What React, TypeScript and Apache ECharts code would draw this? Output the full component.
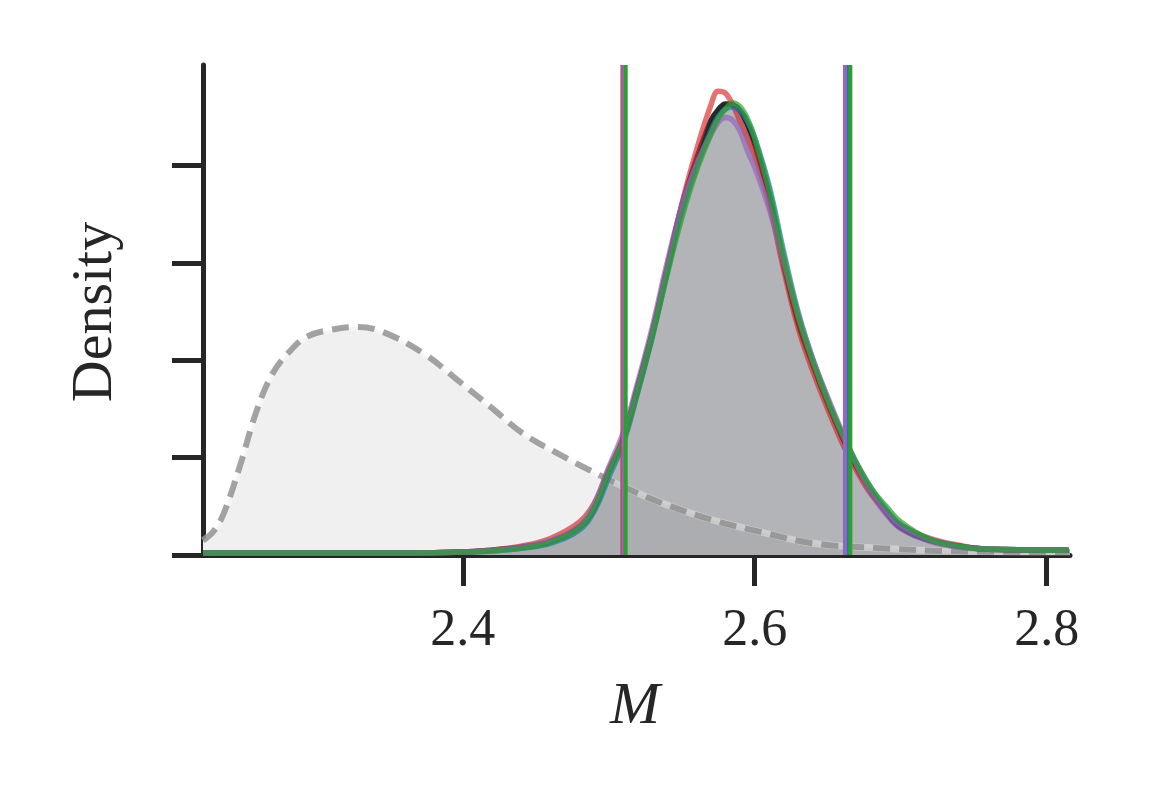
import React, { useEffect, useRef } from "react";
import * as echarts from "echarts";

// Shared M grid for the posterior KDE curves
const mGrid = [2.222, 2.36, 2.40, 2.42, 2.44, 2.46, 2.48, 2.49, 2.50, 2.51, 2.52, 2.53, 2.54, 2.55, 2.56, 2.57, 2.575, 2.58, 2.585, 2.59, 2.595, 2.60, 2.61, 2.62, 2.63, 2.64, 2.65, 2.66, 2.67, 2.68, 2.69, 2.70, 2.72, 2.74, 2.76, 2.815];

// Posterior densities (pooled + four chains)
const pooled = [0.02, 0.02, 0.03, 0.05, 0.08, 0.14, 0.29, 0.48, 0.86, 1.21, 1.74, 2.30, 2.95, 3.58, 4.06, 4.46, 4.57, 4.63, 4.62, 4.56, 4.42, 4.22, 3.68, 2.98, 2.38, 1.95, 1.56, 1.21, 0.90, 0.64, 0.44, 0.28, 0.15, 0.09, 0.06, 0.05];
const chainRed = [0.02, 0.02, 0.03, 0.05, 0.09, 0.17, 0.34, 0.53, 0.88, 1.20, 1.70, 2.27, 2.93, 3.60, 4.15, 4.62, 4.76, 4.74, 4.62, 4.45, 4.28, 4.10, 3.60, 2.92, 2.32, 1.88, 1.50, 1.15, 0.86, 0.62, 0.45, 0.31, 0.17, 0.10, 0.06, 0.05];
const chainBlue = [0.02, 0.02, 0.03, 0.04, 0.07, 0.12, 0.26, 0.45, 0.80, 1.15, 1.68, 2.25, 2.90, 3.52, 3.98, 4.36, 4.50, 4.58, 4.60, 4.56, 4.45, 4.28, 3.78, 3.10, 2.48, 2.00, 1.60, 1.24, 0.93, 0.68, 0.47, 0.31, 0.16, 0.09, 0.06, 0.05];
const chainPurple = [0.02, 0.02, 0.03, 0.05, 0.08, 0.15, 0.30, 0.52, 0.90, 1.26, 1.78, 2.35, 3.00, 3.58, 4.00, 4.32, 4.44, 4.49, 4.46, 4.35, 4.15, 3.98, 3.55, 3.00, 2.45, 2.00, 1.62, 1.26, 0.92, 0.63, 0.42, 0.27, 0.14, 0.08, 0.06, 0.05];
const chainGreen = [0.02, 0.02, 0.03, 0.04, 0.07, 0.13, 0.28, 0.48, 0.84, 1.18, 1.70, 2.26, 2.88, 3.46, 3.94, 4.32, 4.48, 4.58, 4.64, 4.60, 4.48, 4.28, 3.74, 3.05, 2.44, 1.98, 1.58, 1.24, 0.94, 0.68, 0.50, 0.34, 0.16, 0.09, 0.06, 0.05];

// Prior density
const priorM = [2.222, 2.229, 2.236, 2.247, 2.259, 2.270, 2.282, 2.293, 2.309, 2.327, 2.345, 2.373, 2.396, 2.419, 2.441, 2.464, 2.487, 2.510, 2.537, 2.571, 2.606, 2.640, 2.686, 2.734, 2.816];
const priorDensity = [0.15, 0.24, 0.42, 0.90, 1.49, 1.87, 2.10, 2.24, 2.31, 2.34, 2.29, 2.07, 1.80, 1.52, 1.25, 1.05, 0.87, 0.70, 0.53, 0.36, 0.23, 0.12, 0.07, 0.04, 0.03];

// Credible interval bounds per chain (order: red, blue, purple, green)
const chainColors = ["#d62728", "#1f77b4", "#9467bd", "#2ca02c"];
const lowerBounds = [2.5094, 2.5105, 2.5100, 2.5116];
const upperBounds = [2.6625, 2.6635, 2.6618, 2.6655];

const xTicks = [2.4, 2.6, 2.8];
const yTicks = [0, 1, 2, 3, 4];
const xMin = 2.222;
const xMax = 2.816;
const yMax = 5.03;

const zip = (xs: number[], ys: number[]) => xs.map((x, i) => [x, ys[i]]);

export default function App() {
  const ref = useRef<HTMLDivElement>(null);
  useEffect(() => {
    if (!ref.current) return;
    const chart = echarts.init(ref.current, undefined, { renderer: "svg" });
    const axisColor = "#262626";
    const serif = "'Liberation Serif', serif";

    const chainLines = [
      { data: pooled, color: "rgba(20,20,20,0.9)" },
      { data: chainRed, color: "rgba(214,39,40,0.65)" },
      { data: chainBlue, color: "rgba(31,119,180,0.7)" },
      { data: chainPurple, color: "rgba(148,103,189,0.7)" },
      { data: chainGreen, color: "rgba(44,160,44,0.7)" },
    ];

    const series: any[] = [
      {
        type: "line",
        data: zip(priorM, priorDensity),
        smooth: 0.4,
        showSymbol: false,
        lineStyle: { width: 0 },
        areaStyle: { color: "#f0f0f0", opacity: 1 },
        z: 1,
        silent: true,
      },
      {
        type: "line",
        data: zip(mGrid, pooled),
        smooth: 0.4,
        showSymbol: false,
        lineStyle: { width: 0 },
        areaStyle: { color: "rgba(110,112,116,0.52)", opacity: 1 },
        z: 2,
      },
      {
        type: "line",
        data: zip(priorM, priorDensity),
        smooth: 0.4,
        showSymbol: false,
        lineStyle: { width: 7, color: "rgba(255,255,255,0.35)" },
        z: 3,
      },
      {
        type: "line",
        data: zip(priorM, priorDensity),
        smooth: 0.4,
        showSymbol: false,
        lineStyle: { width: 6, color: "rgba(140,140,140,0.8)", type: [17, 9] },
        z: 3,
      },
      ...chainLines.map((c) => ({
        type: "line",
        data: zip(mGrid, c.data),
        smooth: 0.4,
        showSymbol: false,
        lineStyle: { width: 5.5, color: c.color },
        z: 4,
      })),
      ...chainColors.flatMap((col, i) => [
        {
          type: "line",
          data: [[lowerBounds[i], 0], [lowerBounds[i], yMax]],
          showSymbol: false,
          lineStyle: { width: 4, color: col },
          z: 5,
        },
        {
          type: "line",
          data: [[upperBounds[i], 0], [upperBounds[i], yMax]],
          showSymbol: false,
          lineStyle: { width: 4, color: col },
          z: 5,
        },
      ]),
    ];

    chart.setOption({
      animation: false,
      grid: { left: 203, right: 80, top: 65, bottom: 245, containLabel: false },
      xAxis: {
        type: "value",
        min: xMin,
        max: xMax,
        axisLine: { show: true, onZero: false, lineStyle: { color: axisColor, width: 5 } },
        axisTick: { show: true, length: 31, lineStyle: { color: axisColor, width: 5 }, customValues: xTicks },
        axisLabel: {
          show: true,
          customValues: xTicks,
          formatter: (v: number) => v.toFixed(1),
          fontFamily: serif,
          fontSize: 52,
          color: axisColor,
          margin: 46,
        },
        splitLine: { show: false },
      },
      yAxis: {
        type: "value",
        min: 0,
        max: yMax,
        axisLine: { show: true, onZero: false, lineStyle: { color: axisColor, width: 5 } },
        axisTick: { show: true, length: 31, lineStyle: { color: axisColor, width: 5 }, customValues: yTicks },
        axisLabel: { show: false, customValues: yTicks },
        splitLine: { show: false },
      },
      graphic: [
        {
          type: "text",
          x: 91,
          y: 312,
          rotation: Math.PI / 2,
          style: {
            text: "Density",
            fontFamily: serif,
            fontSize: 58,
            fill: axisColor,
            align: "center",
            verticalAlign: "middle",
          },
        },
        {
          type: "text",
          x: 635,
          y: 703,
          style: {
            text: "M",
            fontFamily: serif,
            fontStyle: "italic",
            fontSize: 60,
            fill: axisColor,
            align: "center",
            verticalAlign: "middle",
          },
        },
      ],
      series,
    });
    return () => chart.dispose();
  }, []);
  return (
    <div
      ref={ref}
      style={{ position: "fixed", left: 0, top: 0, width: 1150, height: 800, background: "#fff" }}
    />
  );
}
